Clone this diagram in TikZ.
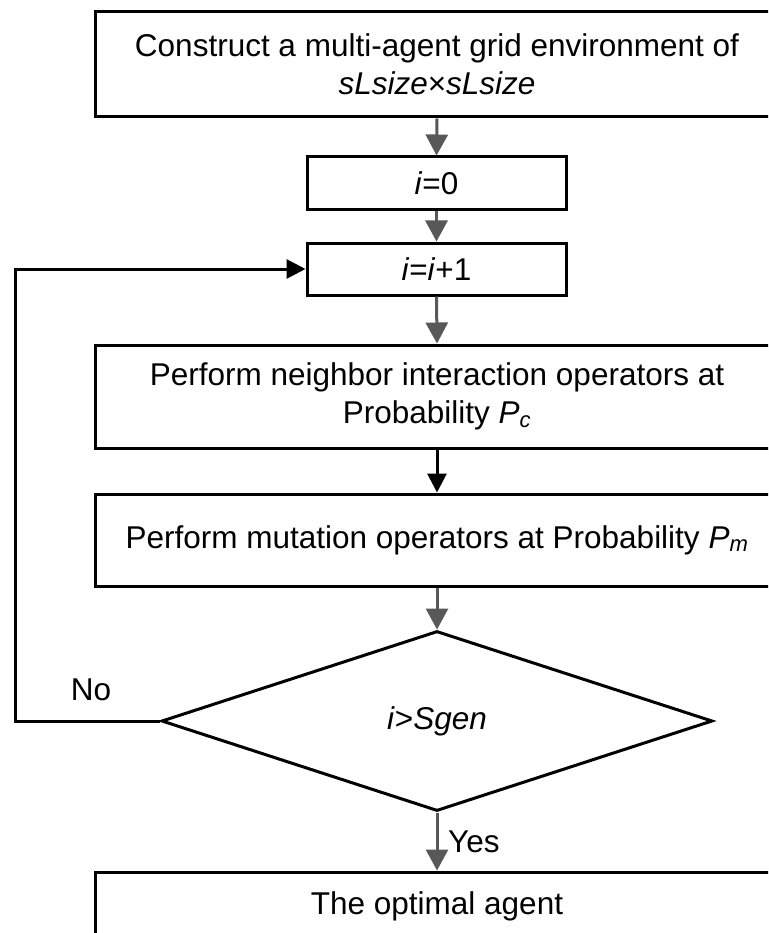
\documentclass[tikz,border=0pt]{standalone}
\usepackage{fontspec}
\setmainfont{Liberation Sans}
\usetikzlibrary{arrows.meta,shapes.geometric}
\definecolor{arrowgray}{RGB}{88,88,88}
\tikzset{
  box/.style={draw=black, line width=3pt, rectangle, inner sep=0pt, align=center, font=\fontsize{31.5}{38}\selectfont},
  dec/.style={draw=black, line width=3pt, diamond, inner sep=0pt, minimum width=551pt, minimum height=180pt, font=\fontsize{31.5}{38}\selectfont},
  garrow/.style={draw=arrowgray, line width=3pt, -{Triangle[length=21pt,width=22pt]}},
  barrow/.style={draw=black, line width=3pt, -{Triangle[length=19pt,width=19pt]}},
  lbl/.style={font=\fontsize{31.5}{36}\selectfont, inner sep=0pt}
}
\begin{document}
\begin{tikzpicture}[x=1pt,y=-1pt]
\useasboundingbox (0,0) rectangle (768,933);
\clip (0,0) rectangle (768,933);
\fill[white] (0,0) rectangle (768,933);
\node[box, minimum width=684pt, minimum height=105pt] (init) at (437,64.5)
  {Construct a multi-agent grid environment of\\\textit{sLsize}×\textit{sLsize}};
\node[box, minimum width=259pt, minimum height=53pt] (zero) at (436.5,183.5) {\textit{i}=0};
\node[box, minimum width=259pt, minimum height=52pt] (inc) at (436.5,269) {\textit{i}=\textit{i}+1};
\node[box, minimum width=684pt, minimum height=103pt] (cross) at (437,396.5)
  {Perform neighbor interaction operators at\\Probability \textit{P}\textsubscript{\textit{c}}};
\node[box, minimum width=684pt, minimum height=92pt] (mut) at (437,540)
  {Perform mutation operators at Probability \textit{P}\textsubscript{\textit{m}}};
\node[dec] (test) at (437,721) {\textit{i}>\textit{Sgen}};
\node[box, minimum width=684pt, minimum height=68pt] (best) at (437,906)
  {The optimal agent};
\coordinate (lb) at (15,721);
\coordinate (lt) at (15,269);
\draw[garrow] (init.south) -- (zero.north);
\draw[garrow] (zero.south) -- (inc.north);
\draw[garrow] (inc.south) -- (cross.north);
\draw[barrow] (cross.south) -- (mut.north);
\draw[garrow] (mut.south) -- (test.north);
\draw[garrow] (test.south) -- (best.north);
\draw[barrow] (test.west) -- (lb) -- (lt) -- (inc.west);
\node[lbl, anchor=west] (yes) at (448,842) {Yes};
\node[lbl] (no) at (91,690) {No};
\end{tikzpicture}
\end{document}
